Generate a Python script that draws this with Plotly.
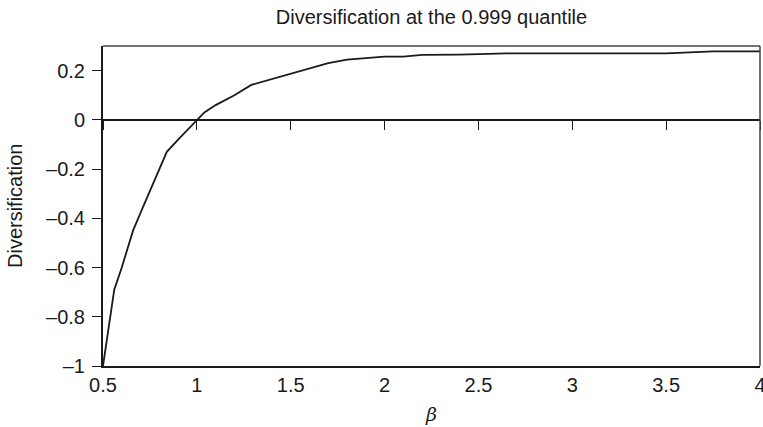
import plotly.graph_objects as go

# Diversification benefit as a function of the tail parameter beta
beta = [0.5, 0.56, 0.6, 0.66, 0.71, 0.76, 0.84, 0.9, 0.95, 1.0, 1.04, 1.1, 1.2,
        1.29, 1.4, 1.5, 1.6, 1.7, 1.8, 1.9, 2.0, 2.1, 2.2, 2.4, 2.65, 3.0,
        3.5, 3.75, 4.0]
diversification = [-1.0, -0.69, -0.60, -0.45, -0.36, -0.27, -0.13, -0.08, -0.04,
                   0.0, 0.03, 0.06, 0.10, 0.142, 0.165, 0.188, 0.209, 0.23,
                   0.245, 0.252, 0.257, 0.257, 0.264, 0.265, 0.27, 0.27, 0.27,
                   0.278, 0.278]

x_ticks = [0.5, 1, 1.5, 2, 2.5, 3, 3.5, 4]
x_tick_text = ["0.5", "1", "1.5", "2", "2.5", "3", "3.5", "4"]
y_ticks = [-1, -0.8, -0.6, -0.4, -0.2, 0, 0.2]
y_tick_text = ["\u20131", "\u20130.8", "\u20130.6", "\u20130.4", "\u20130.2", "0", "0.2"]

x_range = [0.5, 4]
y_range = [-1, 0.3]

font_family = "Liberation Sans, Arial, sans-serif"
ink = "#1a1a1a"

plot_left, plot_right = 103, 760

fig = go.Figure()
fig.add_trace(go.Scatter(
    x=beta, y=diversification, mode="lines",
    line=dict(color=ink, width=1.8),
    showlegend=False, hoverinfo="skip",
))
# invisible trace so the zero-line axis is active
fig.add_trace(go.Scatter(x=x_range, y=[0, 0], xaxis="x2", mode="lines",
                         line=dict(color="rgba(0,0,0,0)"), showlegend=False,
                         hoverinfo="skip"))

zero_pos = (0 - y_range[0]) / (y_range[1] - y_range[0])

fig.update_layout(
    width=763, height=427,
    margin=dict(l=plot_left, r=763 - plot_right, t=46, b=61),
    paper_bgcolor="white", plot_bgcolor="white",
    font=dict(family=font_family, size=20, color=ink),
    title=dict(text="Diversification at the 0.999 quantile",
               x=(plot_left + plot_right) / 2 / 763, xanchor="center",
               y=1 - 17 / 427, yanchor="middle",
               font=dict(size=20, family=font_family, color=ink)),
    xaxis=dict(
        range=x_range, tickvals=x_ticks, ticktext=x_tick_text,
        ticks="", showgrid=False, zeroline=False, automargin=False,
        ticklabelstandoff=0, ticklabeloverflow="allow",
        showline=True, linecolor=ink, linewidth=2,
        title=dict(text="<i>\u03b2</i>", font=dict(family="DejaVu Serif, serif", size=19),
                   standoff=13),
    ),
    xaxis2=dict(
        range=x_range, overlaying="x", anchor="free", position=zero_pos,
        side="bottom", tickvals=x_ticks, ticks="outside", ticklen=9,
        tickwidth=1.3, tickcolor=ink, showticklabels=False,
        showline=True, linecolor=ink, linewidth=1.5,
        showgrid=False, zeroline=False, automargin=False,
    ),
    yaxis=dict(
        range=y_range, tickvals=y_ticks, ticktext=y_tick_text,
        ticks="outside", ticklen=9, tickwidth=1.3, tickcolor=ink,
        ticklabelstandoff=3,
        showgrid=False, zeroline=False, automargin=False,
        showline=True, linecolor=ink, linewidth=2,
    ),
    annotations=[
        # y-axis title placed as a rotated annotation
        dict(text="Diversification", textangle=-90, showarrow=False,
             xref="paper", yref="paper",
             x=(15 - plot_left) / (plot_right - plot_left), y=0.5,
             xanchor="center", yanchor="middle",
             font=dict(size=20, family=font_family, color=ink)),
    ],
    shapes=[
        # thin top and right frame edges
        dict(type="line", xref="paper", yref="paper", x0=0, x1=1, y0=1, y1=1,
             line=dict(color="#444444", width=1.5)),
        dict(type="line", xref="paper", yref="paper", x0=1, x1=1, y0=0, y1=1,
             line=dict(color="#444444", width=1.5)),
    ],
)

fig.write_html("out.html")
